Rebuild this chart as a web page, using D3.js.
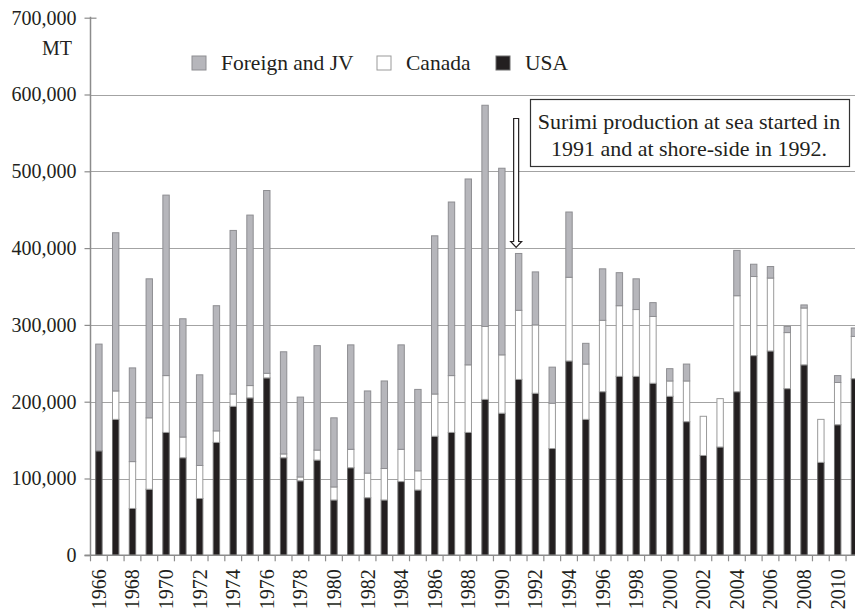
<!DOCTYPE html>
<html>
<head>
<meta charset="utf-8">
<script src="https://cdn.jsdelivr.net/npm/d3@7/dist/d3.min.js"></script>
<style>
	body { margin: 0; background: #fff; }
	svg { display: block; }
	text { font-family: 'Liberation Serif', 'DejaVu Serif', serif; fill: #231f20; }
</style>
</head>
<body>
<svg></svg>
<script>
// Pollock catch by nation, metric tonnes
const years = [1966, 1967, 1968, 1969, 1970, 1971, 1972, 1973, 1974, 1975,
	1976, 1977, 1978, 1979, 1980, 1981, 1982, 1983, 1984, 1985,
	1986, 1987, 1988, 1989, 1990, 1991, 1992, 1993, 1994, 1995,
	1996, 1997, 1998, 1999, 2000, 2001, 2002, 2003, 2004, 2005,
	2006, 2007, 2008, 2009, 2010, 2011];

const usa = [136000, 177000, 61000, 86000, 160000, 127000, 74000, 147000, 194000, 205000,
	231000, 127000, 97000, 124000, 72000, 114000, 75000, 72000, 96000, 85000,
	155000, 160000, 160000, 203000, 185000, 229000, 211000, 139000, 253000, 177000,
	213000, 233000, 233000, 224000, 207000, 174000, 130000, 141000, 213000, 260000,
	266000, 217000, 248000, 121000, 170000, 230000];

const canada = [0, 37000, 61000, 93000, 74000, 27000, 43000, 15000, 16000, 16000,
	6000, 5000, 5000, 13000, 17000, 24000, 32000, 41000, 42000, 25000,
	55000, 74000, 88000, 95000, 76000, 90000, 89000, 59000, 109000, 72000,
	93000, 92000, 87000, 87000, 20000, 53000, 51000, 63000, 125000, 103000,
	95000, 73000, 74000, 56000, 55000, 55000];

const foreign = [139000, 206000, 122000, 181000, 235000, 154000, 118000, 163000, 213000, 222000,
	238000, 133000, 104000, 136000, 90000, 136000, 107000, 114000, 136000, 106000,
	206000, 226000, 242000, 288000, 243000, 74000, 69000, 47000, 85000, 27000,
	67000, 43000, 40000, 18000, 16000, 22000, 0, 0, 59000, 16000,
	15000, 8000, 4000, 0, 9000, 11000];

const yTicks = [0, 100000, 200000, 300000, 400000, 500000, 600000, 700000];
const xLabels = years.filter(d => d % 2 === 0);

const seriesKeys = ['usa', 'canada', 'foreign'];
const legendItems = [
	{ key: 'foreign', label: 'Foreign and JV' },
	{ key: 'canada', label: 'Canada' },
	{ key: 'usa', label: 'USA' }
];
const fills = { usa: '#231f20', canada: '#ffffff', foreign: '#b6b6bb' };
const strokes = { usa: '#6d6d6d', canada: '#9a9a9a', foreign: '#8e8e92' };

const svg = d3.select('svg')
	.attr('width', 855)
	.attr('height', 611);

const plotLeft = 90.5,
	  plotTop = 17.7,
	  plotBottom = 555.3,
	  step = 16.79;

const table = years.map((yr, i) => ({ year: yr, usa: usa[i], canada: canada[i], foreign: foreign[i] }));
const stacked = d3.stack().keys(seriesKeys)(table);

const x = d3.scaleBand()
	.domain(years)
	.range([plotLeft, plotLeft + step * years.length])
	.paddingInner(0.56)
	.paddingOuter(0.28);

const y = d3.scaleLinear()
	.domain([0, 700000])
	.range([plotBottom, plotTop]);

// gridlines
svg.append('g')
	.selectAll('line')
	.data(yTicks.filter(d => d > 0 && d < 700000))
	.join('line')
		.attr('x1', plotLeft)
		.attr('x2', 855)
		.attr('y1', d => Math.round(y(d)) + 0.5)
		.attr('y2', d => Math.round(y(d)) + 0.5)
		.attr('stroke', '#a3a3a3')
		.attr('stroke-width', 1.2);

// bars
svg.append('g')
	.selectAll('g')
	.data(stacked)
	.join('g')
		.attr('fill', s => fills[s.key])
		.attr('stroke', s => strokes[s.key])
	.selectAll('rect')
	.data(s => s.filter(d => d[1] - d[0] > 0))
	.join('rect')
		.attr('x', d => x(d.data.year) + 0.5)
		.attr('y', d => y(d[1]))
		.attr('width', x.bandwidth() - 1)
		.attr('height', d => y(d[0]) - y(d[1]))
		.attr('stroke-width', 1);

// y axis
const yAxis = svg.append('g')
	.attr('transform', `translate(${plotLeft},0)`)
	.call(d3.axisLeft(y)
		.tickValues(yTicks)
		.tickFormat(d3.format(','))
		.tickSize(6)
		.tickPadding(8));

yAxis.select('.domain')
	.attr('stroke', '#8c8c8c')
	.attr('stroke-width', 1.5)
	.attr('d', `M0,${plotTop - 1}V${plotBottom}`);
yAxis.selectAll('.tick line')
	.attr('stroke', '#8c8c8c')
	.attr('stroke-width', 1.2)
	.attr('x2', -6)
	.attr('x1', d => d === 700000 ? 6 : 0);
yAxis.selectAll('.tick text')
	.attr('font-size', 20)
	.attr('font-family', "'Liberation Serif', serif")
	.attr('fill', '#231f20');

svg.append('text')
	.attr('x', 72)
	.attr('y', 55)
	.attr('text-anchor', 'end')
	.attr('font-size', 20)
	.text('MT');

// x axis
const boundaries = years.map(d => x(d) - (x.step() - x.bandwidth()) / 2)
	.concat([x(years[years.length - 1]) + x.bandwidth() + (x.step() - x.bandwidth()) / 2]);

const xAxis = svg.append('g');

xAxis.append('line')
	.attr('x1', plotLeft - 6)
	.attr('x2', 855)
	.attr('y1', plotBottom)
	.attr('y2', plotBottom)
	.attr('stroke', '#8c8c8c')
	.attr('stroke-width', 1.5);

xAxis.selectAll('line.tick')
	.data(boundaries)
	.join('line')
		.attr('class', 'tick')
		.attr('x1', d => d)
		.attr('x2', d => d)
		.attr('y1', plotBottom)
		.attr('y2', plotBottom + 6)
		.attr('stroke', '#8c8c8c')
		.attr('stroke-width', 1.2);

xAxis.selectAll('text')
	.data(xLabels)
	.join('text')
		.attr('transform', d => `translate(${x(d) + x.bandwidth() / 2},${plotBottom + 14}) rotate(-90)`)
		.attr('text-anchor', 'end')
		.attr('dy', '0.35em')
		.attr('font-size', 20)
		.text(d => d);

// legend
const legendX = [192, 377, 496];
const legend = svg.append('g')
	.selectAll('g')
	.data(legendItems)
	.join('g')
		.attr('transform', (d, i) => `translate(${legendX[i]},56)`);

legend.append('rect')
	.attr('width', 14)
	.attr('height', 14)
	.attr('fill', d => fills[d.key])
	.attr('stroke', d => strokes[d.key]);

legend.append('text')
	.attr('x', 29)
	.attr('y', 14)
	.attr('font-size', 21.5)
	.text(d => d.label);

// annotation
const note = svg.append('g');

note.append('rect')
	.attr('x', 530.5)
	.attr('y', 99.5)
	.attr('width', 319)
	.attr('height', 67)
	.attr('fill', '#fff')
	.attr('stroke', '#333')
	.attr('stroke-width', 1.2);

note.selectAll('text')
	.data(['Surimi production at sea started in', '1991 and at shore-side in 1992.'])
	.join('text')
		.attr('x', 689)
		.attr('y', (d, i) => 128.5 + i * 27)
		.attr('text-anchor', 'middle')
		.attr('font-size', 22)
		.text(d => d);

const ax = x(1991) + x.bandwidth() / 2 - 2.5,
	  tipY = y(usa[25] + canada[25] + foreign[25]) - 6;

note.append('path')
	.attr('d', `M${ax - 2.5},118.5 H${ax + 2.5} V${tipY - 6} H${ax + 5.5} L${ax},${tipY} L${ax - 5.5},${tipY - 6} H${ax - 2.5} Z`)
	.attr('fill', '#fff')
	.attr('stroke', '#231f20')
	.attr('stroke-width', 1.2);
</script>
</body>
</html>
